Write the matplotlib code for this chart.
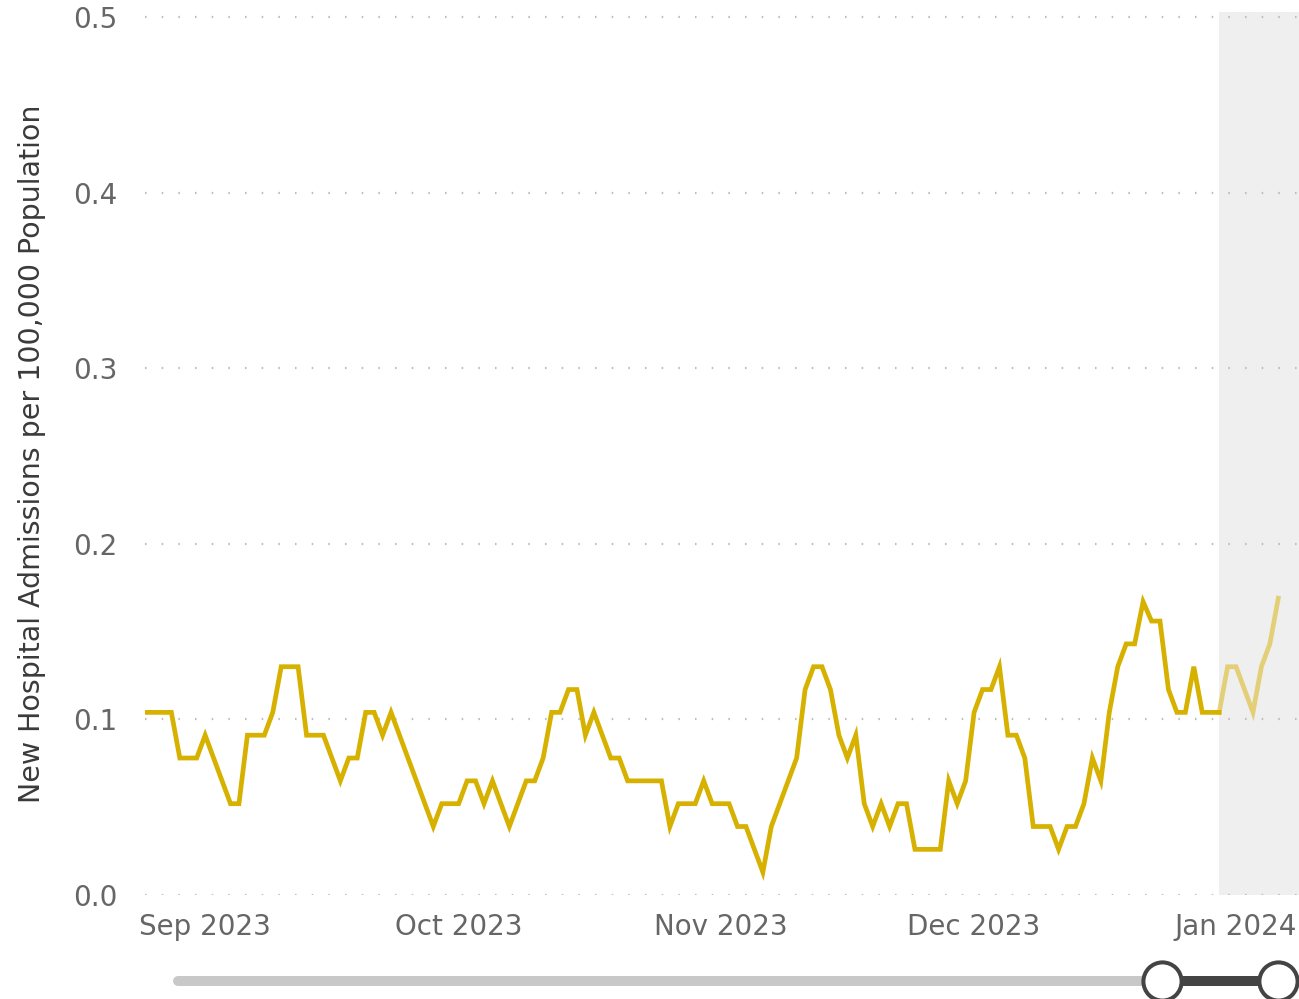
import matplotlib
matplotlib.use("Agg")
import matplotlib.pyplot as plt
import matplotlib.dates as mdates
import pandas as pd
import numpy as np

# ---- data ----
start_date = "2023-08-25"
admissions = [
    0.104, 0.104, 0.104, 0.104, 0.078, 0.078, 0.078, 0.091, 0.078, 0.065,
    0.052, 0.052, 0.091, 0.091, 0.091, 0.104, 0.130, 0.130, 0.130, 0.091,
    0.091, 0.091, 0.078, 0.065, 0.078, 0.078, 0.104, 0.104, 0.091, 0.104,
    0.091, 0.078, 0.065, 0.052, 0.039, 0.052, 0.052, 0.052, 0.065, 0.065,
    0.052, 0.065, 0.052, 0.039, 0.052, 0.065, 0.065, 0.078, 0.104, 0.104,
    0.117, 0.117, 0.091, 0.104, 0.091, 0.078, 0.078, 0.065, 0.065, 0.065,
    0.065, 0.065, 0.039, 0.052, 0.052, 0.052, 0.065, 0.052, 0.052, 0.052,
    0.039, 0.039, 0.026, 0.013, 0.039, 0.052, 0.065, 0.078, 0.117, 0.130,
    0.130, 0.117, 0.091, 0.078, 0.091, 0.052, 0.039, 0.052, 0.039, 0.052,
    0.052, 0.026, 0.026, 0.026, 0.026, 0.065, 0.052, 0.065, 0.104, 0.117,
    0.117, 0.130, 0.091, 0.091, 0.078, 0.039, 0.039, 0.039, 0.026, 0.039,
    0.039, 0.052, 0.078, 0.065, 0.104, 0.130, 0.143, 0.143, 0.167, 0.156,
    0.156, 0.117, 0.104, 0.104, 0.130, 0.104, 0.104, 0.104, 0.130, 0.130,
    0.117, 0.104, 0.130, 0.143, 0.169,
]
incomplete_start = "2023-12-30"   # start of shaded (incomplete data) period
y_ticks = [0.0, 0.1, 0.2, 0.3, 0.4, 0.5]
y_label = "New Hospital Admissions per 100,000 Population"

dates = pd.date_range(start_date, periods=len(admissions), freq="D")
s = pd.Series(admissions, index=dates)
cut = pd.Timestamp(incomplete_start)

# ---- styling ----
LINE = "#D6B100"
W, H = 1299, 999
fig = plt.figure(figsize=(W / 100, H / 100), dpi=100)
plt.rcParams["font.family"] = ["DejaVu Sans"]

def fx(px):
    return px / W

def fy(py):
    return 1 - py / H

ax_l, ax_r, ax_t, ax_b = 145, 1299, 12, 895
ax = fig.add_axes([fx(ax_l), fy(ax_b), fx(ax_r - ax_l), (ax_b - ax_t) / H])

px_per_day = 8.45
x0 = dates[0] - pd.Timedelta(days=1 / px_per_day)
x1 = dates[0] + pd.Timedelta(days=(ax_r - 146) / px_per_day)
ax.set_xlim(x0, x1)
ax.set_ylim(0, (ax_b - ax_t) / 1756.0)

ax.axvspan(cut, x1, color="#EFEFEF", zorder=0, lw=0)

ax.plot(s[:cut].index, s[:cut].values, color=LINE, lw=3.4, zorder=3,
        solid_joinstyle="miter")
ax.plot(s[cut:].index, s[cut:].values, color=LINE, lw=3.4, alpha=0.5,
        zorder=3, solid_joinstyle="miter")

ax.set_yticks(y_ticks)
ax.yaxis.set_major_formatter(matplotlib.ticker.FormatStrFormatter("%.1f"))
ax.xaxis.set_major_locator(mdates.MonthLocator())
ax.xaxis.set_major_formatter(mdates.DateFormatter("%b %Y"))

for yv in y_ticks:
    ax.axhline(yv, color="#BDBDBD", lw=1.6, dashes=(0.7, 6.8), zorder=1)

for sp in ax.spines.values():
    sp.set_visible(False)
ax.tick_params(axis="both", length=0, labelcolor="#666666", labelsize=20)
ax.tick_params(axis="y", pad=20)
ax.tick_params(axis="x", pad=13)
ax.set_ylabel(y_label, color="#3A3A3A", fontsize=20.5, labelpad=19)
ax.patch.set_alpha(0)

# ---- range slider (decoration) ----
sl = fig.add_axes([0, 0, 1, 1], zorder=5)
sl.set_xlim(0, W)
sl.set_ylim(H, 0)
sl.axis("off")
sl.plot([178, 1158], [981, 981], color="#C8C8C8", lw=7.2, solid_capstyle="round")
sl.plot([1162, 1278], [981, 981], color="#444444", lw=7.2, solid_capstyle="butt")
sl.plot([1162, 1278], [981, 981], ls="none", marker="o", markersize=27.5,
        markerfacecolor="white", markeredgecolor="#444444", markeredgewidth=2.9)

fig.savefig("out.png", dpi=100)
